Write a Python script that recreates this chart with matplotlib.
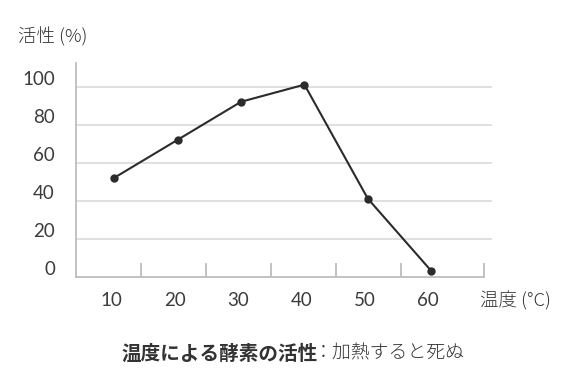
import matplotlib
matplotlib.use("Agg")
import matplotlib.pyplot as plt
import matplotlib.transforms as mtransforms

plt.rcParams['font.family'] = ['Noto Sans CJK JP', 'DejaVu Sans']

# datos
temps = [10, 20, 30, 40, 50, 60]
activity = [52, 72, 92, 101, 41, 3]
yticks = [0, 20, 40, 60, 80, 100]
bounds = [14.2, 24.4, 34.7, 45.0, 55.3, 68.4]

txt = '#333333'
numfont = dict(family='Lato', fontsize=13.5, fontweight='normal', color='#3c3c3c')

fig = plt.figure(figsize=(5.86, 3.87), dpi=100)
ax = fig.add_axes([0.1292, 0.2855, 0.8396 - 0.1292, 0.8372 - 0.2855])

ax.set_xlim(3.9, 69.6)
ax.set_ylim(0, 112.4)

# grid
for y in yticks[1:]:
    ax.axhline(y, color='#e0e0e0', linewidth=1.4, zorder=1)

ax.plot(temps, activity, color='#2b2b2b', linewidth=1.5, marker='o',
        markersize=5, zorder=3)

for s in ['top', 'right']:
    ax.spines[s].set_visible(False)
for s in ['left', 'bottom']:
    ax.spines[s].set_color('#bdbdbd')
    ax.spines[s].set_linewidth(1.3)
ax.spines['bottom'].set_bounds(3.9, bounds[-1])

ax.set_yticks(yticks)
ax.set_yticklabels([str(v) for v in yticks], **numfont)
ax.tick_params(axis='y', length=0, pad=15)
yoff = mtransforms.ScaledTranslation(0, 9 / 100, fig.dpi_scale_trans)
for lab in ax.get_yticklabels():
    lab.set_transform(lab.get_transform() + yoff)

ax.set_xticks(temps)
ax.set_xticklabels([str(t) for t in temps], **numfont)
ax.tick_params(axis='x', which='major', length=0, pad=11)
xoff = mtransforms.ScaledTranslation(-3 / 100, 0, fig.dpi_scale_trans)
for lab in ax.get_xticklabels():
    lab.set_transform(lab.get_transform() + xoff)

ax.set_xticks(bounds, minor=True)
ax.tick_params(axis='x', which='minor', direction='in', length=10,
               width=1.3, color='#bdbdbd')

fig.text(18 / 586, 1 - 37 / 387, '活性 (%)', fontsize=13.3, color=txt,
         ha='left', va='center', fontweight='light')
fig.text(480 / 586, 1 - 301 / 387, '温度 (°C)', fontsize=13.3, color=txt,
         ha='left', va='center', fontweight='light')

fig.text(318 / 586, 1 - 354 / 387, '温度による酵素の活性', fontsize=14.1,
         fontweight='bold', color=txt, ha='right', va='center')
fig.text(314 / 586, 1 - 354 / 387, '：加熱すると死ぬ', fontsize=13.6,
         color=txt, ha='left', va='center', fontweight='light')

fig.savefig('out.png', dpi=100)
